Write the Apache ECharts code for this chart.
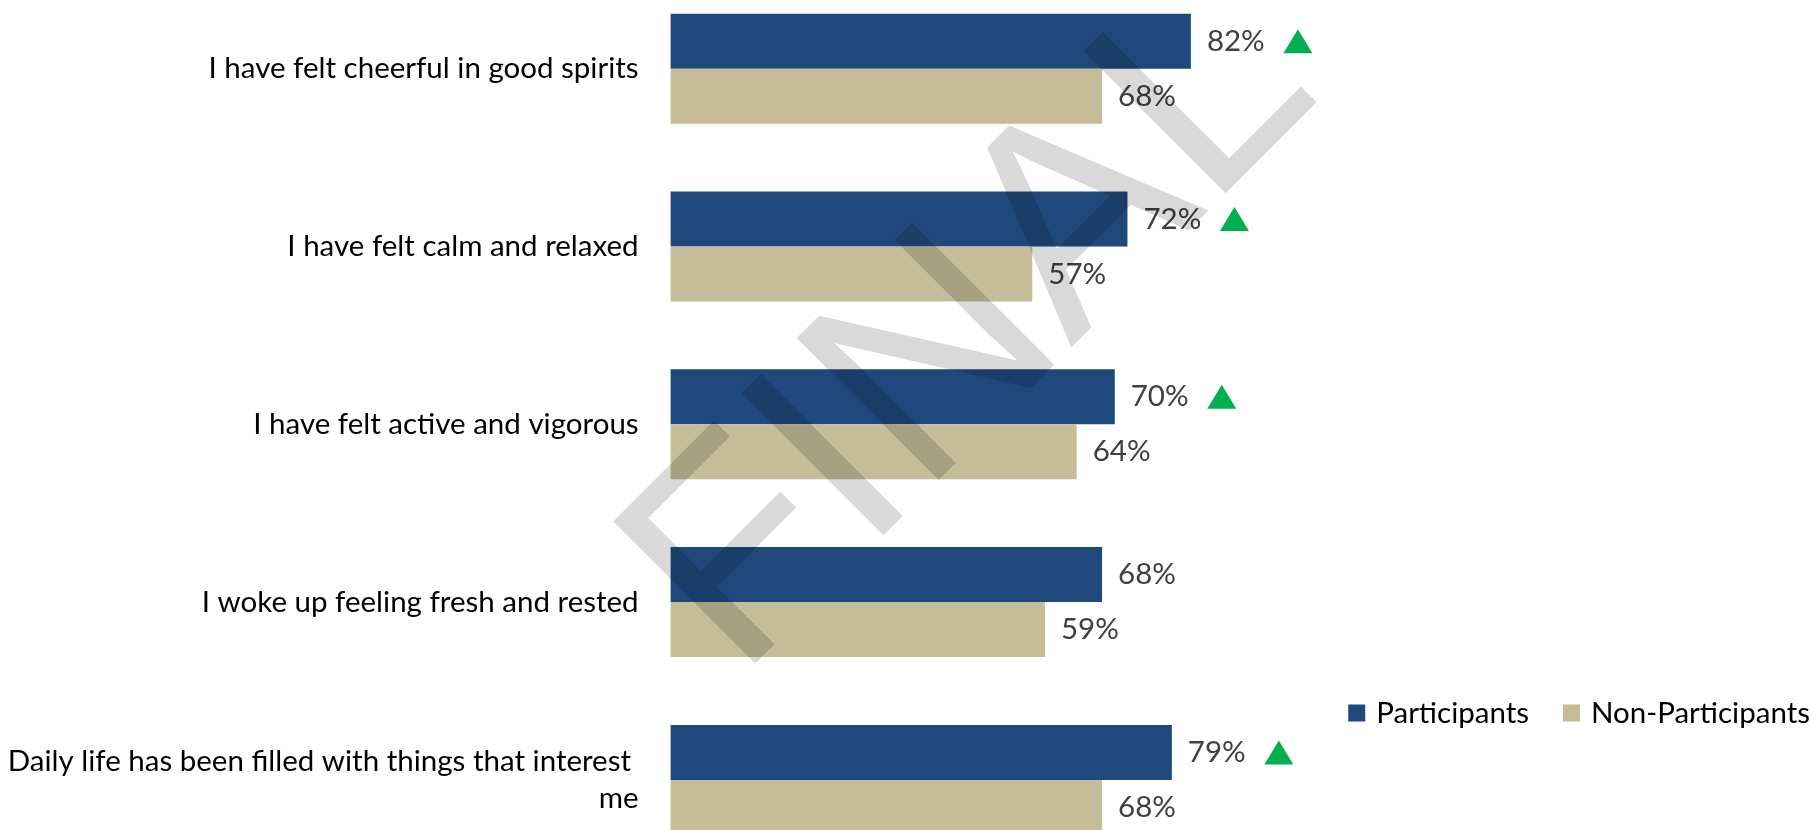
<!DOCTYPE html>
<html>
<head>
<meta charset="utf-8">
<script src="https://cdn.jsdelivr.net/npm/echarts@6/dist/echarts.min.js"></script>
<style>
  html, body { margin: 0; padding: 0; background: #ffffff; }
  #chart { width: 1813px; height: 830px; }
</style>
</head>
<body>
<div id="chart"></div>
<script>
// ---- data ----
const categories = [
  'I have felt cheerful in good spirits',
  'I have felt calm and relaxed',
  'I have felt active and vigorous',
  'I woke up feeling fresh and rested',
  'Daily life has been filled with things that interest me'
];
const seriesNames = ['Participants', 'Non-Participants'];
const participants = [82, 72, 70, 68, 79];
const nonParticipants = [68, 57, 64, 59, 68];
const significant = [true, true, true, false, true];
const watermarkText = 'FINAL';

// ---- styling ----
const FONT = 'Lato, "Liberation Sans", sans-serif';
const FS = 29.5;
const BLUE = '#1F497D';
const TAN = '#C4BD97';
const GREEN = '#00B050';

const chart = echarts.init(document.getElementById('chart'), null, { renderer: 'canvas' });

const sigData = participants.map((v, i) => significant[i] ? [v, categories[i]] : ['-', categories[i]]);

const option = {
  animation: false,
  backgroundColor: '#ffffff',
  textStyle: { fontFamily: FONT },
  grid: {
    left: 670.6, top: -20.2, width: 634.5, height: 889,
    containLabel: false, outerBoundsMode: 'none'
  },
  legend: {
    data: seriesNames,
    right: -2, top: 693,
    icon: 'rect', itemWidth: 17, itemHeight: 17, itemGap: 34,
    textStyle: { fontFamily: FONT, fontSize: FS, color: '#000000', padding: [0, 0, 0, 6] }
  },
  xAxis: {
    type: 'value', min: 0, max: 100,
    show: false
  },
  yAxis: {
    type: 'category', data: categories, inverse: true,
    axisLine: { show: false }, axisTick: { show: false }, splitLine: { show: false },
    axisLabel: {
      margin: 32, fontFamily: FONT, fontSize: FS, color: '#000000',
      width: 650, overflow: 'break', lineHeight: 37, align: 'right'
    }
  },
  series: [
    {
      name: seriesNames[0], type: 'bar', data: participants,
      barWidth: 55, barGap: '0%',
      itemStyle: { color: BLUE },
      label: { show: true, position: 'right', distance: 16, formatter: '{c}%',
               fontFamily: FONT, fontSize: FS, color: '#404040' }
    },
    {
      name: seriesNames[1], type: 'bar', data: nonParticipants,
      barWidth: 55, barGap: '0%',
      itemStyle: { color: TAN },
      label: { show: true, position: 'right', distance: 16, formatter: '{c}%',
               fontFamily: FONT, fontSize: FS, color: '#404040' }
    },
    {
      name: 'sig', type: 'scatter', data: sigData,
      symbol: 'triangle', symbolSize: [29, 24], symbolOffset: [107, -27.5],
      itemStyle: { color: GREEN, opacity: 1 }, silent: true, z: 5
    }
  ],
  graphic: [
    {
      type: 'text', x: 974, y: 331, rotation: Math.PI / 4, z: 100, silent: true,
      style: {
        text: watermarkText, font: '292px "Liberation Sans"',
        fill: 'rgba(0,0,0,0.15)', align: 'center', verticalAlign: 'middle'
      }
    }
  ]
};
chart.setOption(option);
</script>
</body>
</html>
